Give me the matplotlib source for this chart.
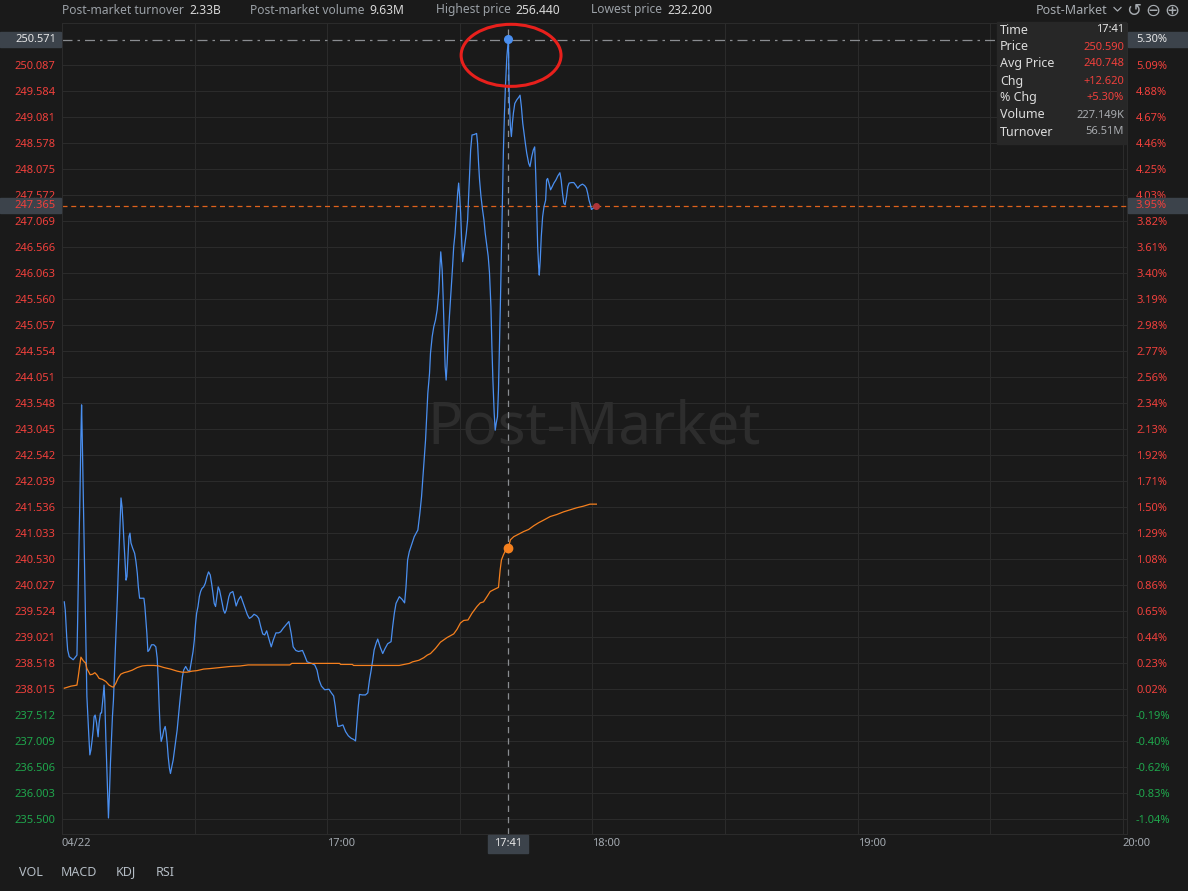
import matplotlib
matplotlib.use("Agg")
import matplotlib.pyplot as plt
import matplotlib.transforms as mtransforms
from matplotlib.lines import Line2D
from matplotlib.patches import Ellipse, Rectangle

plt.rcParams['font.family'] = ['Noto Sans', 'DejaVu Sans']

# ---- data (minutes after 16:00, price) ----
prev_close = 237.97

price_t = [0.52, 0.74, 1.06, 1.28, 1.64, 2.54, 3.38, 3.53, 3.76, 4.05, 4.28, 4.43, 4.57, 4.80, 5.02,
           5.25, 5.47, 5.63, 5.85, 6.08, 6.30, 6.53, 6.82, 7.05, 7.27, 7.50, 7.81, 8.17, 8.40, 8.71,
           8.94, 9.16, 9.30, 9.52, 9.68, 9.91, 10.13, 10.36, 10.51, 10.74, 10.96, 11.19, 11.41, 11.64,
           11.86, 12.09, 12.31, 12.54, 12.76, 12.99, 13.21, 13.35, 13.58, 13.80, 14.03, 14.25, 14.48,
           14.70, 14.93, 15.15, 15.38, 15.60, 15.98, 16.43, 16.73, 17.04, 17.27, 17.56, 18.53, 18.75,
           18.98, 19.20, 19.43, 19.74, 20.26, 20.78, 21.23, 21.54, 21.77, 21.99, 22.22, 22.44, 22.74,
           23.03, 23.35, 23.57, 23.80, 24.02, 24.31, 24.54, 24.83, 25.15, 25.44, 25.73, 26.05, 26.34,
           26.63, 26.95, 27.24, 27.53, 27.98, 28.43, 28.88, 29.20, 29.65, 29.94, 30.23, 30.46, 30.77,
           31.07, 31.36, 31.67, 32.04, 32.42, 32.80, 33.16, 33.54, 33.84, 34.15, 34.44, 34.74, 35.05,
           35.34, 35.64, 35.95, 36.25, 36.54, 36.85, 37.15, 37.44, 37.75, 38.05, 38.65, 38.95, 39.40,
           39.91, 40.45, 40.91, 41.42, 41.94, 42.39, 42.93, 43.45, 44.06, 44.51, 44.96, 45.41, 45.86,
           46.31, 46.76, 47.34, 47.79, 48.40, 49.01, 49.46, 50.05, 50.65, 51.33, 51.85, 52.30, 52.90,
           53.51, 54.41, 54.86, 55.45, 56.44, 57.18, 57.70, 58.15, 58.69, 59.43, 60.40, 60.94, 61.46,
           61.84, 62.07, 62.43, 62.97, 63.55, 64.16, 64.77, 65.44, 65.96, 66.41, 66.71, 67.02, 67.31,
           67.92, 68.66, 69.18, 69.57, 69.95, 70.31, 70.62, 71.07, 71.43, 71.97, 72.56, 73.10, 73.68,
           74.45, 74.81, 75.19, 75.57, 76.32, 76.93, 77.51, 77.83, 78.19, 78.57, 79.18, 79.69, 80.51,
           80.96, 81.34, 81.73, 82.02, 82.25, 82.47, 82.76, 83.15, 83.37, 83.75, 84.11, 84.50, 84.88,
           85.24, 85.47, 85.69, 86.01, 86.23, 86.46, 86.68, 86.91, 87.13, 87.36, 87.65, 88.03, 88.32,
           88.62, 88.93, 89.22, 89.51, 89.74, 89.97, 90.19, 90.42, 90.64, 90.87, 91.18, 91.47, 91.77,
           91.99, 92.22, 92.45, 92.76, 93.28, 93.80, 94.02, 94.25, 94.47, 94.79, 95.15, 95.46, 95.75,
           96.14, 96.43, 96.72, 97.04, 97.26, 97.49, 97.78, 98.01, 98.23, 98.52, 98.75, 98.97, 99.20,
           99.42, 99.65, 99.87, 100.10, 100.32, 100.64, 101.00, 101.12, 101.22, 101.45, 101.67, 101.90,
           102.12, 102.44, 102.89, 103.34, 103.63, 103.93, 104.24, 104.53, 104.83, 105.14, 105.59,
           105.88, 106.27, 106.63, 106.94, 107.17, 107.39, 107.62, 107.84, 107.98, 108.20, 108.43,
           108.74, 109.04, 109.42, 109.64, 109.87, 110.16, 110.54, 110.90, 111.29, 111.74, 112.19,
           112.64, 112.93, 113.24, 113.54, 113.83, 114.15, 114.44, 114.73, 115.27, 115.79, 116.24,
           116.69, 117.14, 117.75, 118.26, 118.65, 118.94, 119.23, 119.55, 119.78, 120.14, 120.52, 120.90]
price_v = [239.70, 239.54, 239.03, 238.77, 238.64, 238.58, 238.67, 239.29, 240.48, 241.71, 242.89, 243.51,
           242.93, 241.86, 240.77, 239.68, 238.58, 237.87, 237.48, 237.09, 236.74, 236.83, 237.03, 237.22,
           237.48, 237.51, 237.36, 237.09, 237.36, 237.55, 237.55, 237.74, 237.87, 238.09, 237.80, 237.09,
           236.51, 235.87, 235.52, 236.00, 236.58, 237.03, 237.48, 237.80, 238.32, 238.83, 239.29, 239.80,
           240.38, 240.90, 241.44, 241.71, 241.54, 241.23, 240.84, 240.51, 240.12, 240.19, 240.57, 240.96,
           241.03, 240.84, 240.74, 240.64, 240.48, 240.25, 239.99, 239.77, 239.77, 239.61, 239.35, 239.09,
           238.74, 238.77, 238.87, 238.87, 238.83, 238.61, 238.19, 237.67, 237.22, 237.00, 237.09, 237.22,
           237.29, 237.16, 236.96, 236.71, 236.48, 236.38, 236.51, 236.64, 236.83, 237.03, 237.22, 237.48,
           237.74, 238.00, 238.25, 238.38, 238.45, 238.38, 238.35, 238.51, 238.74, 238.96, 239.29, 239.48,
           239.61, 239.80, 239.90, 239.96, 239.99, 240.06, 240.19, 240.28, 240.22, 240.06, 239.87, 239.67,
           239.61, 239.80, 239.99, 239.93, 239.80, 239.67, 239.54, 239.48, 239.54, 239.67, 239.80, 239.87,
           239.90, 239.80, 239.62, 239.74, 239.81, 239.70, 239.58, 239.45, 239.38, 239.41, 239.46, 239.43,
           239.38, 239.22, 239.08, 239.06, 239.14, 239.00, 238.83, 238.96, 239.10, 239.10, 239.12, 239.19,
           239.25, 239.32, 239.09, 238.83, 238.76, 238.74, 238.76, 238.67, 238.54, 238.51, 238.48, 238.38,
           238.19, 238.07, 238.00, 238.01, 237.94, 237.88, 237.67, 237.48, 237.29, 237.30, 237.32, 237.19,
           237.11, 237.06, 237.04, 237.01, 237.35, 237.67, 237.91, 237.90, 237.90, 237.94, 238.19, 238.38,
           238.58, 238.77, 238.90, 238.98, 238.83, 238.70, 238.80, 238.89, 238.93, 239.22, 239.48, 239.67,
           239.80, 239.75, 239.68, 239.99, 240.51, 240.67, 240.83, 240.96, 241.09, 241.41, 241.73, 242.19,
           242.51, 242.83, 243.22, 243.73, 244.12, 244.51, 244.83, 245.02, 245.15, 245.35, 245.70, 246.12,
           246.47, 246.12, 245.60, 244.89, 244.25, 243.99, 244.31, 244.77, 245.22, 245.73, 246.12, 246.57,
           246.83, 247.22, 247.60, 247.80, 247.54, 247.22, 246.70, 246.28, 246.44, 246.64, 246.83, 247.09,
           247.54, 247.99, 248.44, 248.73, 248.74, 248.76, 248.57, 248.18, 247.86, 247.54, 247.28, 247.09,
           246.83, 246.57, 246.38, 246.06, 245.41, 244.64, 243.99, 243.35, 243.02, 243.15, 243.28, 243.80,
           244.64, 245.54, 246.51, 247.60, 248.44, 249.15, 249.66, 250.24, 250.59, 249.79, 249.34, 248.89,
           248.70, 248.96, 249.15, 249.34, 249.41, 249.46, 249.50, 249.28, 248.96, 248.76, 248.57, 248.38,
           248.18, 248.12, 248.31, 248.44, 248.50, 247.99, 247.34, 246.57, 246.18, 246.02, 246.31, 246.76,
           247.15, 247.34, 247.47, 247.86, 247.89, 247.80, 247.67, 247.73, 247.80, 247.86, 247.94, 248.00,
           247.86, 247.60, 247.41, 247.38, 247.54, 247.73, 247.80, 247.81, 247.81, 247.76, 247.70, 247.75,
           247.78, 247.75, 247.70, 247.60, 247.47, 247.38, 247.29, 247.31, 247.34, 247.365]

avg_t = [0.52, 1.28, 2.03, 2.77, 3.38, 3.67, 3.98, 4.28, 4.66, 5.02, 5.34, 5.63, 6.01, 6.37, 6.91, 7.43,
         7.88, 8.40, 9.16, 9.91, 10.65, 11.26, 11.64, 12.16, 12.67, 13.28, 14.03, 14.93, 15.92, 17.04,
         18.17, 19.29, 20.78, 21.91, 23.03, 24.54, 26.05, 27.17, 28.30, 29.42, 30.55, 32.04, 33.54, 35.79,
         38.05, 40.30, 42.10, 51.55, 52.00, 62.80, 63.03, 65.70, 65.96, 76.30, 77.40, 78.60, 79.31, 80.74,
         81.86, 82.63, 83.37, 84.50, 85.62, 87.13, 88.62, 89.38, 90.13, 90.87, 91.86, 92.76, 93.88, 94.63,
         95.37, 96.14, 96.88, 97.78, 98.75, 99.13, 99.42, 99.87, 100.32, 101.00, 101.45, 102.19, 103.32,
         104.44, 105.57, 106.69, 107.82, 108.94, 110.45, 111.96, 113.44, 114.95, 116.46, 117.94, 119.45,
         120.90]
avg_v = [238.03, 238.05, 238.07, 238.08, 238.09, 238.25, 238.45, 238.63, 238.58, 238.54, 238.52, 238.41,
         238.35, 238.29, 238.30, 238.33, 238.29, 238.22, 238.20, 238.16, 238.09, 238.06, 238.05, 238.12,
         238.22, 238.30, 238.33, 238.35, 238.38, 238.43, 238.46, 238.47, 238.47, 238.46, 238.43, 238.40,
         238.36, 238.34, 238.34, 238.36, 238.37, 238.40, 238.41, 238.43, 238.45, 238.46, 238.48, 238.48,
         238.51, 238.51, 238.49, 238.49, 238.47, 238.47, 238.49, 238.51, 238.54, 238.57, 238.62, 238.67,
         238.70, 238.80, 238.92, 239.01, 239.08, 239.17, 239.29, 239.34, 239.35, 239.48, 239.61, 239.68,
         239.70, 239.80, 239.90, 239.94, 239.98, 240.32, 240.51, 240.61, 240.69, 240.748, 240.90, 240.96,
         241.01, 241.06, 241.10, 241.17, 241.23, 241.28, 241.35, 241.39, 241.44, 241.48, 241.52, 241.55,
         241.59, 241.59]

y_ticks = [235.500, 236.003, 236.506, 237.009, 237.512, 238.015, 238.518, 239.021, 239.524, 240.027,
           240.530, 241.033, 241.536, 242.039, 242.542, 243.045, 243.548, 244.051, 244.554, 245.057,
           245.560, 246.063, 246.566, 247.069, 247.572, 248.075, 248.578, 249.081, 249.584, 250.087]
x_ticks = [0, 60, 120, 180, 240]
x_labels = ["04/22", "17:00", "18:00", "19:00", "20:00"]
x_grid = [0, 30, 60, 90, 120, 150, 180, 210, 240]

cursor_t = 101
cursor_label = "17:41"
cursor_price = 250.571
cursor_close = 250.59
cursor_avg = 240.748
last_price = 247.365
last_t = 120.90

header_names = ["Post-market turnover", "Post-market volume", "Highest price", "Lowest price"]
header_values = ["2.33B", "9.63M", "256.440", "232.200"]
tip_names = ["Time", "Price", "Avg Price", "Chg", "% Chg", "Volume", "Turnover"]
tip_values = ["17:41", "250.590", "240.748", "+12.620", "+5.30%", "227.149K", "56.51M"]
tip_colors = ["#e6e6e6", "#f0403c", "#f0403c", "#f0403c", "#f0403c", "#a8abaf", "#a8abaf"]
panels = ["VOL", "MACD", "KDJ", "RSI"]

# ---- style ----
BG = "#1a1a1a"
GRID = "#2b2b2b"
RED = "#f0403c"
GREEN = "#1fa64c"
BLUE = "#4a8ff0"
ORANGE = "#f5801e"
BOX = "#3c434b"
W, H = 1188, 891


def fx(px):
    return px / W


def fy(py):
    return 1 - py / H


def pct(v):
    return f"{(v - prev_close) / prev_close * 100:.2f}%"


fig = plt.figure(figsize=(W / 100, H / 100), dpi=100, facecolor=BG)
ax = fig.add_axes([fx(62), fy(834), 1065 / W, 811 / H])
ax.set_facecolor(BG)
ax.set_xlim(0, 240.95)
ax.set_ylim(235.5 - 15 / 51.7, 235.5 + 796 / 51.7)

for v in y_ticks:
    ax.axhline(v, color=GRID, lw=0.8, zorder=0)
for v in x_grid:
    ax.axvline(v, color=GRID, lw=0.8, zorder=0)
for s in ax.spines.values():
    s.set_color(GRID)
    s.set_linewidth(0.8)

ax.text(0.5, 0.5, "Post-Market", transform=ax.transAxes, ha="center", va="center",
        fontsize=42, color="#2d2d2d", zorder=0.5)

# reference lines
ax.axhline(last_price, color="#e0621c", lw=0.9, ls=(0, (4, 3)), zorder=1)
ax.axvline(cursor_t, color="#8a8d91", lw=0.9, ls=(0, (5, 4)), zorder=1)
ax.axhline(cursor_price, color="#8a8d91", lw=0.9, ls=(0, (8, 4, 2, 4)), zorder=1)

ax.plot(price_t, price_v, color=BLUE, lw=0.9, zorder=3)
ax.plot(avg_t, avg_v, color=ORANGE, lw=0.9, zorder=3)
ax.plot([cursor_t], [cursor_close], "o", color=BLUE, ms=5.5, zorder=4)
ax.plot([cursor_t], [cursor_avg], "o", color=ORANGE, ms=6, zorder=4)
ax.plot([last_t], [last_price], "o", color="#b0363a", ms=4, zorder=4)

ax.add_patch(Ellipse((cursor_t + 0.6, cursor_price - 0.3), 22.6, 1.2, fill=False,
                     ec="#e8201c", lw=2.2, zorder=5, clip_on=False))

# axis labels
ax.set_yticks(y_ticks)
ax.set_yticklabels([f"{v:.3f}" for v in y_ticks])
ax.tick_params(axis="y", length=0, pad=4.5, labelsize=8)
for lab, v in zip(ax.get_yticklabels(), y_ticks):
    lab.set_color(RED if v >= prev_close else GREEN)

ax.set_xticks(x_ticks)
ax.set_xticklabels(x_labels)
ax.tick_params(axis="x", length=0, pad=3, labelsize=8, colors="#a3a9b0")
for lab in ax.get_xticklabels():
    lab.set_horizontalalignment("left")

ax2 = ax.twinx()
ax2.set_ylim(ax.get_ylim())
ax2.set_yticks(y_ticks)
ax2.set_yticklabels([pct(v) for v in y_ticks])
ax2.tick_params(axis="y", length=0, pad=6.5, labelsize=8)
for lab, v in zip(ax2.get_yticklabels(), y_ticks):
    lab.set_color(RED if v >= prev_close else GREEN)
for s in ax2.spines.values():
    s.set_visible(False)

# highlighted value boxes on both axes
blend = mtransforms.blended_transform_factory(fig.transFigure, ax.transData)
hbox = 15 / 51.7
for val, txt_col in [(cursor_price, "#e6e6e6"), (last_price, RED)]:
    fig.add_artist(Rectangle((0, val - hbox / 2), fx(61), hbox, transform=blend,
                             color=BOX, zorder=2))
    fig.text(fx(56), val, f"{val:.3f}", transform=blend, ha="right", va="center",
             fontsize=8, color=txt_col, zorder=3)
    fig.add_artist(Rectangle((fx(1128), val - hbox / 2), fx(60), hbox, transform=blend,
                             color=BOX, zorder=2))
    fig.text(fx(1136), val, pct(val), transform=blend, ha="left", va="center",
             fontsize=8, color=txt_col, zorder=3)

# time box under the cursor
fig.add_artist(Rectangle((fx(488), fy(853)), fx(40), 18 / H, color=BOX, zorder=2))
fig.text(fx(508), fy(844), cursor_label, ha="center", va="center", fontsize=8,
         color="#e6e6e6", zorder=3)

# tooltip
fig.add_artist(Rectangle((fx(997), fy(144)), fx(129), 122 / H, color="#272727", zorder=2))
for i, (n, v, c) in enumerate(zip(tip_names, tip_values, tip_colors)):
    yy = fy(30 + i * 17)
    fig.text(fx(1000), yy, n, ha="left", va="center", fontsize=9, color="#dcdcdc", zorder=3)
    fig.text(fx(1124), yy, v, ha="right", va="center", fontsize=8, color=c, zorder=3)

# header: each value follows its name
renderer = fig.canvas.get_renderer()
for n, v, xn in zip(header_names, header_values, [62, 250, 436, 591]):
    t = fig.text(fx(xn), fy(10), n, ha="left", va="center", fontsize=8.7, color="#9aa0a6")
    x_end = t.get_window_extent(renderer).x1
    fig.text(fx(x_end + 5), fy(10), v, ha="left", va="center", fontsize=8.7, color="#d8d8d8")

fig.text(fx(1036), fy(10), "Post-Market", ha="left", va="center", fontsize=9, color="#a6abb0")
fig.add_artist(Line2D([fx(1114), fx(1117.5), fx(1121)], [fy(7.5), fy(11), fy(7.5)],
                      color="#a6abb0", lw=0.9))
for xi, sym in zip([1134, 1153, 1172], ["↺", "⊖", "⊕"]):
    fig.text(fx(xi), fy(11), sym, ha="center", va="center", fontsize=13, color="#a6abb0",
             family=["DejaVu Sans"])

# indicator tabs
for name, xi in zip(panels, [19, 61, 116, 156]):
    fig.text(fx(xi), fy(872), name, ha="left", va="center", fontsize=9, color="#b4bcc4")

fig.savefig("out.png", dpi=100, facecolor=BG)
